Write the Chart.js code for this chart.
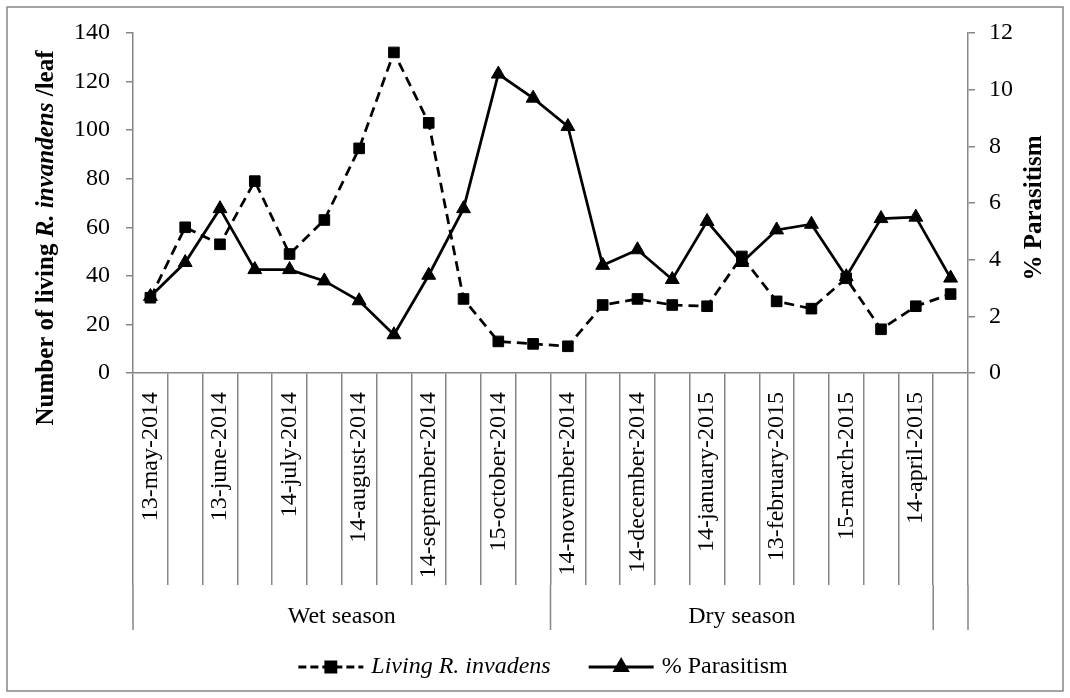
<!DOCTYPE html>
<html>
<head>
<meta charset="utf-8">
<script src="https://cdn.jsdelivr.net/npm/chart.js@4.4.1/dist/chart.umd.min.js"></script>
<style>
  html, body { margin: 0; padding: 0; background: #fff; }
  #contenedor { width: 1070px; height: 698px; }
</style>
</head>
<body>
<div id="contenedor"><canvas id="grafico"></canvas></div>
<script>
// Datos (muestreo quincenal, una etiqueta cada dos fechas)
const fechas = [
  '13-may-2014', '', '13-june-2014', '', '14-july-2014', '', '14-august-2014', '',
  '14-september-2014', '', '15-october-2014', '', '14-november-2014', '', '14-december-2014', '',
  '14-january-2015', '', '13-february-2015', '', '15-march-2015', '', '14-april-2015', ''
];
const vivos = [31, 60, 53, 79, 49, 63, 92.5, 132, 103, 30.5, 13, 12,
               11, 28, 30.5, 28, 27.5, 48, 29.5, 26.5, 39, 18, 27.5, 32.5];
const parasitismo = [2.7, 3.9, 5.8, 3.65, 3.65, 3.25, 2.55, 1.35, 3.45, 5.8, 10.55, 9.7,
                     8.7, 3.8, 4.35, 3.3, 5.35, 3.9, 5.05, 5.25, 3.4, 5.45, 5.5, 3.35];
const temporadas = ['Wet season', 'Dry season', ''];
const tramos = [12, 11, 1];   // numero de fechas en cada temporada

const gris = '#868686';
const fuente = "'Liberation Serif', 'Times New Roman', serif";

// Texto con partes en distintas fuentes (negrita / cursiva), rotado
function textoMixto(ctx, partes, cx, cy, angulo) {
  ctx.save();
  ctx.translate(cx, cy);
  ctx.rotate(angulo);
  let total = 0;
  partes.forEach((p) => { ctx.font = p.font; p.w = ctx.measureText(p.t).width; total += p.w; });
  let pos = -total / 2;
  ctx.textAlign = 'left';
  ctx.textBaseline = 'middle';
  ctx.fillStyle = '#000';
  partes.forEach((p) => { ctx.font = p.font; ctx.fillText(p.t, pos, 0); pos += p.w; });
  ctx.restore();
  return total;
}

const decoracion = {
  id: 'decoracion',
  beforeDraw(chart) {
    const ctx = chart.ctx;
    ctx.save();
    ctx.fillStyle = '#fff';
    ctx.fillRect(0, 0, chart.width, chart.height);
    ctx.strokeStyle = gris;
    ctx.lineWidth = 1.5;
    ctx.strokeRect(7, 7, chart.width - 14, chart.height - 14);
    ctx.restore();
  },
  afterDraw(chart) {
    const ctx = chart.ctx;
    const x = chart.scales.x;
    const area = chart.chartArea;
    const ancho = x.getPixelForValue(1) - x.getPixelForValue(0);
    const borde = (i) => x.getPixelForValue(i) - ancho / 2;
    const yTicks = area.bottom + 212;
    const yFin = x.bottom;

    // Fila de temporadas
    ctx.save();
    ctx.strokeStyle = gris;
    ctx.lineWidth = 1.5;
    ctx.font = '24px ' + fuente;
    ctx.fillStyle = '#000';
    ctx.textAlign = 'center';
    ctx.textBaseline = 'middle';
    ctx.beginPath();
    ctx.moveTo(borde(0), yTicks);
    ctx.lineTo(borde(0), yFin);
    let inicio = 0;
    tramos.forEach((n, k) => {
      const fin = inicio + n;
      ctx.moveTo(borde(fin), yTicks);
      ctx.lineTo(borde(fin), yFin);
      ctx.fillText(temporadas[k], (borde(inicio) + borde(fin)) / 2, yFin - 13);
      inicio = fin;
    });
    ctx.stroke();
    ctx.restore();

    // Titulos de los ejes
    textoMixto(ctx, [
      { t: 'Number of living ', font: 'bold 25px ' + fuente },
      { t: 'R. invandens', font: 'italic bold 25px ' + fuente },
      { t: ' /leaf', font: 'bold 25px ' + fuente },
    ], 47, 238, -Math.PI / 2);
    textoMixto(ctx, [{ t: '% Parasitism', font: 'bold 25px ' + fuente }], 1035, 208, -Math.PI / 2);

    // Leyenda
    const yl = 667;
    ctx.save();
    const items = [
      { texto: chart.data.datasets[0].label, font: 'italic 24px ' + fuente, dash: [8, 4], marca: 'rect' },
      { texto: chart.data.datasets[1].label, font: '24px ' + fuente, dash: [], marca: 'triangle' },
    ];
    const muestra = 65, sep = 8, hueco = 38;
    let total = 0;
    items.forEach((it) => { ctx.font = it.font; it.w = ctx.measureText(it.texto).width; total += muestra + sep + it.w; });
    total += hueco;
    let px = chart.width / 2 + 8 - total / 2;
    items.forEach((it) => {
      ctx.strokeStyle = '#000';
      ctx.lineWidth = 3;
      ctx.setLineDash(it.dash);
      ctx.beginPath();
      ctx.moveTo(px, yl);
      ctx.lineTo(px + muestra, yl);
      ctx.stroke();
      ctx.setLineDash([]);
      ctx.fillStyle = '#000';
      Chart.helpers.drawPoint(ctx, { pointStyle: it.marca, radius: 7, borderWidth: 1, rotation: 0 }, px + muestra / 2, yl);
      ctx.font = it.font;
      ctx.textAlign = 'left';
      ctx.textBaseline = 'middle';
      ctx.fillText(it.texto, px + muestra + sep, yl);
      px += muestra + sep + it.w + hueco;
    });
    ctx.restore();
  }
};

new Chart(document.getElementById('grafico'), {
  type: 'line',
  data: {
    labels: fechas,
    datasets: [
      {
        label: 'Living R. invadens',
        data: vivos,
        yAxisID: 'y',
        borderColor: '#000',
        backgroundColor: '#000',
        borderWidth: 2.75,
        borderDash: [10, 6],
        pointStyle: 'rect',
        pointRadius: 7.5,
        pointBorderWidth: 1,
      },
      {
        label: '% Parasitism',
        data: parasitismo,
        yAxisID: 'y2',
        borderColor: '#000',
        backgroundColor: '#000',
        borderWidth: 2.75,
        pointStyle: 'triangle',
        pointRadius: 8,
        pointBorderWidth: 1,
      },
    ],
  },
  options: {
    responsive: true,
    maintainAspectRatio: false,
    animation: false,
    layout: { padding: { top: 33, bottom: 68, left: 0, right: 0 } },
    font: { family: fuente },
    plugins: {
      legend: { display: false },
      tooltip: { enabled: false },
    },
    scales: {
      x: {
        offset: true,
        grid: { offset: true, drawOnChartArea: false, tickLength: 212, color: gris, lineWidth: 1.5 },
        border: { color: gris, width: 1.5 },
        ticks: {
          autoSkip: false, minRotation: 90, maxRotation: 90, padding: -193,
          color: '#000', font: { family: fuente, size: 24 },
        },
        afterFit: (s) => { s.height = 257; },
      },
      y: {
        position: 'left',
        min: 0,
        max: 140,
        ticks: { stepSize: 20, padding: 16, color: '#000', font: { family: fuente, size: 24 } },
        grid: { drawOnChartArea: false, tickLength: 7, color: gris, lineWidth: 1.5 },
        border: { color: gris, width: 1.5 },
        afterFit: (s) => { s.width = 133; },
      },
      y2: {
        position: 'right',
        min: 0,
        max: 12,
        ticks: { stepSize: 2, padding: 14, color: '#000', font: { family: fuente, size: 24 } },
        grid: { drawOnChartArea: false, tickLength: 7, color: gris, lineWidth: 1.5 },
        border: { color: gris, width: 1.5 },
        afterFit: (s) => { s.width = 102; },
      },
    },
  },
  plugins: [decoracion],
});
</script>
</body>
</html>
